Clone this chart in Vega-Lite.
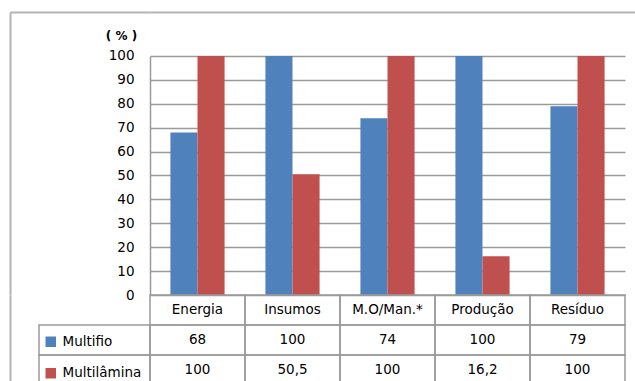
{
  "$schema": "https://vega.github.io/schema/vega-lite/v6.json",
  "padding": {"left": 10, "top": 12, "right": 0, "bottom": 0},
  "config": {
    "font": "DejaVu Sans",
    "view": {"stroke": null},
    "locale": {"number": {"decimal": ",", "thousands": ".", "grouping": [3], "currency": ["R$", ""]}}
  },
  "datasets": {
    "dados": [
      {"categoria": "Energia", "serie": "Multifio", "valor": 68},
      {"categoria": "Energia", "serie": "Multilâmina", "valor": 100},
      {"categoria": "Insumos", "serie": "Multifio", "valor": 100},
      {"categoria": "Insumos", "serie": "Multilâmina", "valor": 50.5},
      {"categoria": "M.O/Man.*", "serie": "Multifio", "valor": 74},
      {"categoria": "M.O/Man.*", "serie": "Multilâmina", "valor": 100},
      {"categoria": "Produção", "serie": "Multifio", "valor": 100},
      {"categoria": "Produção", "serie": "Multilâmina", "valor": 16.2},
      {"categoria": "Resíduo", "serie": "Multifio", "valor": 79},
      {"categoria": "Resíduo", "serie": "Multilâmina", "valor": 100}
    ]
  },
  "data": {"name": "dados"},
  "columns": 2,
  "spacing": 0,
  "bounds": "flush",
  "concat": [
    {
      "width": 140,
      "height": 283,
      "data": {"values": []},
      "mark": "point",
      "encoding": {
        "x": {"field": "a", "type": "quantitative", "scale": {"domain": [0, 1]},
              "axis": {"orient": "top", "labels": false, "ticks": false, "grid": false, "title": null,
                       "domainColor": "#b4b4b4", "domainWidth": 2}},
        "y": {"field": "b", "type": "quantitative", "scale": {"domain": [0, 1]},
              "axis": {"orient": "left", "labels": false, "ticks": false, "grid": false, "title": null,
                       "domainColor": "#b4b4b4", "domainWidth": 2}}
      }
    },
    {
      "width": 485,
      "height": 283,
      "mark": {"type": "bar"},
      "encoding": {
        "x": {"field": "categoria", "type": "nominal", "sort": null,
              "scale": {"paddingInner": 0.43, "paddingOuter": 0.2676, "align": 0.4017},
              "axis": {"orient": "top", "labels": false, "ticks": false, "grid": false, "title": null,
                       "domainColor": "#b4b4b4", "domainWidth": 2}},
        "xOffset": {"field": "serie", "type": "nominal", "sort": null,
                    "scale": {"paddingInner": 0, "paddingOuter": 0}},
        "y": {"field": "valor", "type": "quantitative",
              "scale": {"domain": [0, 118.41], "nice": false},
              "axis": {"values": [0, 10, 20, 30, 40, 50, 60, 70, 80, 90, 100],
                       "title": "( % )", "titleAngle": 0, "titleAlign": "center", "titleBaseline": "middle",
                       "titleX": -29, "titleY": 23, "titleFontSize": 12, "titleFontWeight": "bold", "titleColor": "#000",
                       "labelFontSize": 13.5, "labelColor": "#000", "labelPadding": 16,
                       "ticks": false, "domainColor": "#9a9a9a", "domainWidth": 1.5, "domainDash": [239, 1000],
                       "gridColor": "#9a9a9a", "gridWidth": 1.5, "gridDash": [475, 1000]}},
        "color": {"field": "serie", "type": "nominal", "sort": null,
                  "scale": {"domain": ["Multifio", "Multilâmina"], "range": ["#4F81BD", "#C0504D"]},
                  "legend": {"title": null, "orient": "none", "legendX": 34, "legendY": 323,
                             "symbolType": "square", "symbolSize": 110, "symbolStrokeWidth": 0,
                             "labelFontSize": 13.5, "labelColor": "#000", "labelOffset": 5, "rowPadding": 16.5}}
      }
    },
    {
      "width": 140,
      "height": 90,
      "transform": [{"filter": "datum.categoria == 'Energia'"}],
      "mark": {"type": "rect", "filled": false, "stroke": "#9a9a9a", "strokeWidth": 1.5},
      "encoding": {
        "x": {"datum": "legenda", "type": "nominal", "axis": null,
              "scale": {"domain": ["legenda"], "paddingInner": 0, "paddingOuter": 0.1306, "align": 1}},
        "y": {"field": "serie", "type": "nominal",
              "scale": {"domain": ["header", "Multifio", "Multilâmina"], "paddingInner": 0, "paddingOuter": 0},
              "axis": {"orient": "left", "labels": false, "ticks": false, "grid": false, "title": null,
                       "domainColor": "#b4b4b4", "domainWidth": 2}}
      }
    },
    {
      "width": 475,
      "height": 90,
      "encoding": {
        "x": {"field": "categoria", "type": "nominal", "sort": null, "axis": null,
              "scale": {"paddingInner": 0, "paddingOuter": 0}}
      },
      "layer": [
        {
          "transform": [{"filter": "datum.serie == 'Multifio'"}],
          "mark": {"type": "rect", "filled": false, "stroke": "#9a9a9a", "strokeWidth": 1.5},
          "encoding": {
            "y": {"datum": "header", "type": "nominal", "axis": null,
                  "scale": {"domain": ["header", "Multifio", "Multilâmina"], "paddingInner": 0, "paddingOuter": 0}}
          }
        },
        {
          "mark": {"type": "rect", "filled": false, "stroke": "#9a9a9a", "strokeWidth": 1.5},
          "encoding": {"y": {"field": "serie", "type": "nominal", "axis": null}}
        },
        {
          "transform": [{"filter": "datum.serie == 'Multifio'"}],
          "mark": {"type": "text", "fontSize": 13.5, "color": "#000"},
          "encoding": {
            "y": {"datum": "header", "type": "nominal", "axis": null},
            "text": {"field": "categoria", "type": "nominal"}
          }
        },
        {
          "mark": {"type": "text", "fontSize": 13.5, "color": "#000"},
          "encoding": {
            "y": {"field": "serie", "type": "nominal", "axis": null},
            "text": {"field": "valor", "type": "quantitative", "format": "~f"}
          }
        }
      ]
    }
  ]
}
